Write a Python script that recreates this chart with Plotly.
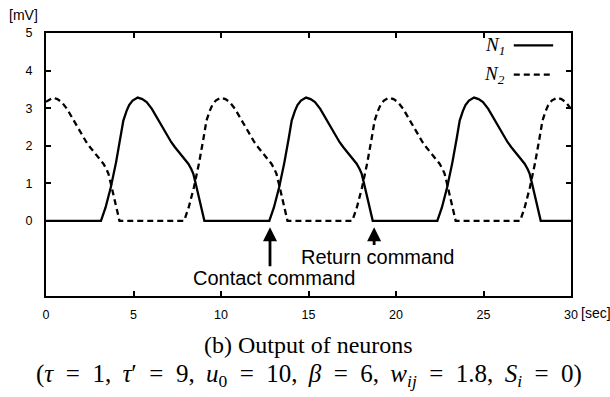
import plotly.graph_objects as go

# ---- data ----
n1_t = [0, 3.14, 3.40, 3.70, 4.00, 4.25, 4.42, 4.60, 4.75, 4.95, 5.24, 5.50, 5.75, 6.05, 6.32, 6.60, 6.89, 7.15, 7.37, 7.75, 8.13, 8.30, 8.42, 8.55, 8.70, 8.88, 9.05,
        12.76, 13.02, 13.32, 13.62, 13.87, 14.04, 14.22, 14.37, 14.57, 14.86, 15.12, 15.37, 15.67, 15.94, 16.22, 16.51, 16.77, 16.99, 17.37, 17.75, 17.92, 18.04, 18.17, 18.32, 18.50, 18.67,
        22.36, 22.62, 22.92, 23.22, 23.47, 23.64, 23.82, 23.97, 24.17, 24.46, 24.72, 24.97, 25.27, 25.54, 25.82, 26.11, 26.37, 26.59, 26.97, 27.35, 27.52, 27.64, 27.77, 27.92, 28.10, 28.27,
        30]
n1_v = [0, 0, 0.35, 0.89, 1.55, 2.20, 2.67, 2.92, 3.08, 3.20, 3.28, 3.24, 3.16, 2.98, 2.76, 2.54, 2.32, 2.10, 1.96, 1.75, 1.52, 1.38, 1.25, 1.00, 0.71, 0.35, 0,
        0, 0.35, 0.89, 1.55, 2.20, 2.67, 2.92, 3.08, 3.20, 3.28, 3.24, 3.16, 2.98, 2.76, 2.54, 2.32, 2.10, 1.96, 1.75, 1.52, 1.38, 1.25, 1.00, 0.71, 0.35, 0,
        0, 0.35, 0.89, 1.55, 2.20, 2.67, 2.92, 3.08, 3.20, 3.28, 3.24, 3.16, 2.98, 2.76, 2.54, 2.32, 2.10, 1.96, 1.75, 1.52, 1.38, 1.25, 1.00, 0.71, 0.35, 0,
        0]

n2_t = [0, 0.10, 0.39, 0.65, 0.90, 1.20, 1.47, 1.75, 2.04, 2.30, 2.52, 2.90, 3.28, 3.45, 3.57, 3.70, 3.85, 4.03, 4.20,
        7.89, 8.15, 8.45, 8.75, 9.00, 9.17, 9.35, 9.50, 9.70, 9.99, 10.25, 10.50, 10.80, 11.07, 11.35, 11.64, 11.90, 12.12, 12.50, 12.88, 13.05, 13.17, 13.30, 13.45, 13.63, 13.80,
        17.50, 17.76, 18.06, 18.36, 18.61, 18.78, 18.96, 19.11, 19.31, 19.60, 19.86, 20.11, 20.41, 20.68, 20.96, 21.25, 21.51, 21.73, 22.11, 22.49, 22.66, 22.78, 22.91, 23.06, 23.24, 23.41,
        27.09, 27.35, 27.65, 27.95, 28.20, 28.37, 28.55, 28.70, 28.90, 29.19, 29.45, 29.70, 30.00]
n2_v = [3.17, 3.20, 3.28, 3.24, 3.16, 2.98, 2.76, 2.54, 2.32, 2.10, 1.96, 1.75, 1.52, 1.38, 1.25, 1.00, 0.71, 0.35, 0,
        0, 0.35, 0.89, 1.55, 2.20, 2.67, 2.92, 3.08, 3.20, 3.28, 3.24, 3.16, 2.98, 2.76, 2.54, 2.32, 2.10, 1.96, 1.75, 1.52, 1.38, 1.25, 1.00, 0.71, 0.35, 0,
        0, 0.35, 0.89, 1.55, 2.20, 2.67, 2.92, 3.08, 3.20, 3.28, 3.24, 3.16, 2.98, 2.76, 2.54, 2.32, 2.10, 1.96, 1.75, 1.52, 1.38, 1.25, 1.00, 0.71, 0.35, 0,
        0, 0.35, 0.89, 1.55, 2.20, 2.67, 2.92, 3.08, 3.20, 3.28, 3.24, 3.16, 2.98]

x_ticks = [0, 5, 10, 15, 20, 25, 30]
y_ticks = [0, 1, 2, 3, 4, 5]
contact_t = 12.8
return_t = 18.75

SANS = "Liberation Sans, Arial, sans-serif"
SERIF = "Liberation Serif, Times New Roman, serif"

fig = go.Figure()
fig.add_trace(go.Scatter(x=n1_t, y=n1_v, mode="lines", name="N1",
                         line=dict(color="black", width=2.3)))
fig.add_trace(go.Scatter(x=n2_t, y=n2_v, mode="lines", name="N2",
                         line=dict(color="black", width=2.3, dash="6px,4px")))

axis_common = dict(showline=True, linecolor="black", linewidth=2, mirror="ticks",
                   ticks="inside", ticklen=5, tickwidth=1.5, tickcolor="black",
                   showgrid=False, zeroline=False,
                   tickfont=dict(family=SANS, size=12.5, color="black"))
fig.update_xaxes(range=[0, 30], tickvals=x_ticks, ticktext=[str(v) for v in x_ticks],
                 ticklabelstandoff=6, **axis_common)
fig.update_yaxes(range=[-2, 5], tickvals=y_ticks, ticktext=[str(v) for v in y_ticks],
                 ticklabelstandoff=9, **axis_common)

E = "\u2002"
T = "\u2009"
ann = []
# unit labels
ann.append(dict(text="[mV]", xref="paper", yref="paper", x=-0.042, y=1.068,
                xanchor="center", yanchor="middle",
                showarrow=False, font=dict(family=SANS, size=14, color="black")))
ann.append(dict(text="[sec]", xref="paper", yref="paper", x=1.015, y=-0.065,
                xanchor="left", yanchor="middle",
                showarrow=False, font=dict(family=SANS, size=14, color="black")))
# legend (text left of line sample)
ann.append(dict(text="<i>N<sub>1</sub></i>", xref="paper", yref="paper", x=0.878, y=0.951,
                xanchor="right", yanchor="middle", showarrow=False,
                font=dict(family=SERIF, size=19, color="black")))
ann.append(dict(text="<i>N<sub>2</sub></i>", xref="paper", yref="paper", x=0.878, y=0.840,
                xanchor="right", yanchor="middle", showarrow=False,
                font=dict(family=SERIF, size=19, color="black")))
# command arrows
ann.append(dict(x=contact_t, y=-0.17, ax=contact_t, ay=-1.25, xref="x", yref="y",
                axref="x", ayref="y", text="", showarrow=True, arrowhead=2,
                arrowsize=1, arrowwidth=2.8, arrowcolor="black"))
ann.append(dict(x=13.03, y=-1.52, xref="x", yref="y", text="Contact command",
                showarrow=False, font=dict(family=SANS, size=20, color="black")))
ann.append(dict(x=return_t, y=-0.17, ax=return_t, ay=-0.68, xref="x", yref="y",
                axref="x", ayref="y", text="", showarrow=True, arrowhead=2,
                arrowsize=1, arrowwidth=2.8, arrowcolor="black"))
ann.append(dict(x=18.94, y=-0.95, xref="x", yref="y", text="Return command",
                showarrow=False, font=dict(family=SANS, size=20, color="black")))
# caption
ann.append(dict(text="(b) Output of neurons", xref="paper", yref="paper", x=0.5, y=-0.186,
                yanchor="middle", showarrow=False, font=dict(family=SERIF, size=24, color="black")))
EQ = E + "=" + E
ann.append(dict(text="(<i>τ</i>" + EQ + "1," + T + " <i>τ</i>′" + EQ + "9," + T + " <i>u</i><sub>0</sub>"
                     + EQ + "10," + T + " <i>β</i>" + EQ + "6," + T + " "
                     "<i>w<sub>ij</sub></i>" + EQ + "1.8," + T + " <i>S<sub>i</sub></i>" + EQ + "0)",
                xref="paper", yref="paper", x=0.5, y=-0.304, yanchor="middle",
                showarrow=False, font=dict(family=SERIF, size=25, color="black")))

shapes = [
    dict(type="line", xref="paper", yref="paper", x0=0.891, x1=0.966, y0=0.953, y1=0.953,
         line=dict(color="black", width=2.3)),
    dict(type="line", xref="paper", yref="paper", x0=0.891, x1=0.966, y0=0.842, y1=0.842,
         line=dict(color="black", width=2.3, dash="6px,4px")),
]

fig.update_layout(width=610, height=397, margin=dict(l=46, r=39, t=33, b=101),
                  paper_bgcolor="white", plot_bgcolor="white", showlegend=False,
                  annotations=ann, shapes=shapes)

fig.write_html("out.html")
